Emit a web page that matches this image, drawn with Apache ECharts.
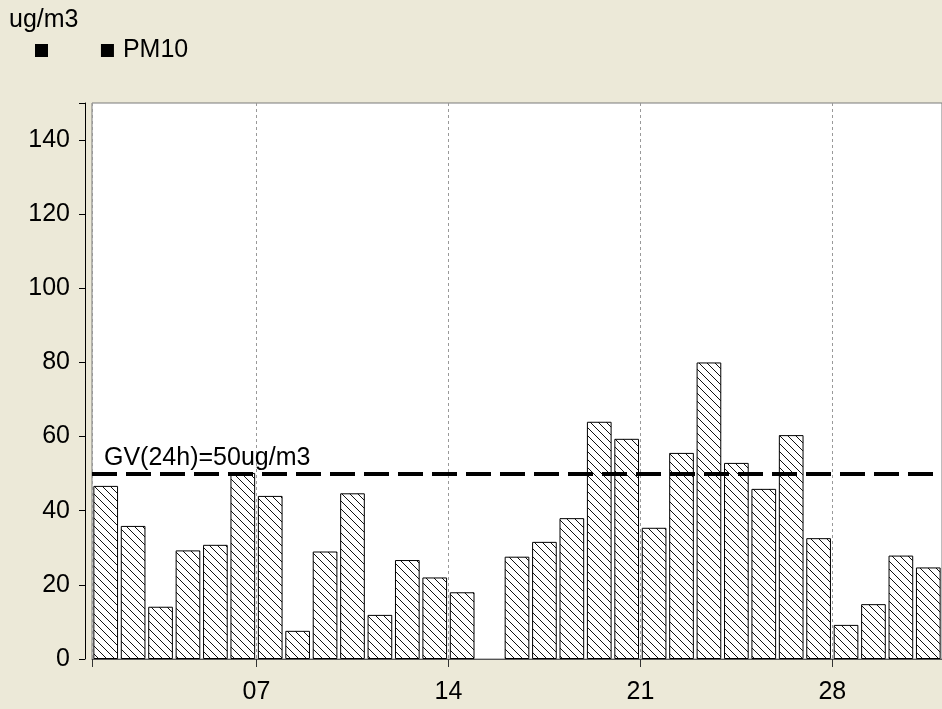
<!DOCTYPE html>
<html>
<head>
<meta charset="utf-8">
<script src="https://cdn.jsdelivr.net/npm/echarts@6/dist/echarts.min.js"></script>
<style>
  html, body { margin: 0; padding: 0; background: #ECE9D8; }
  #chart { width: 942px; height: 709px; }
</style>
</head>
<body>
<div id="chart"></div>
<script>
// ---- data ----
const days = [1,2,3,4,5,6,7,8,9,10,11,12,13,14,15,16,17,18,19,20,21,22,23,24,25,26,27,28,29,30,31];
const pm10 = [46.7,35.9,14.1,29.3,30.8,50.2,44.0,7.6,29.0,44.7,11.9,26.7,22.0,18.0,null,27.6,31.6,38.0,64.0,59.4,35.4,55.6,80.0,52.9,45.9,60.4,32.6,9.2,14.8,27.9,24.7];
const tickDays = [7,14,21,28];
const tickLabels = ['07','14','21','28'];
const yTicks = [0,20,40,60,80,100,120,140];
const guideValue = 50;
const guideLabel = 'GV(24h)=50ug/m3';
const unitLabel = 'ug/m3';
const seriesName = 'PM10';

// hatch pattern
const pat = document.createElement('canvas');
pat.width = 8; pat.height = 8;
const pc = pat.getContext('2d');
pc.fillStyle = '#fff';
pc.fillRect(0, 0, 8, 8);
pc.strokeStyle = '#111';
pc.lineWidth = 1;
pc.beginPath();
pc.moveTo(0, 0); pc.lineTo(8, 8);
pc.moveTo(-1, 7); pc.lineTo(1, 9);
pc.moveTo(7, -1); pc.lineTo(9, 1);
pc.stroke();

const FONT = "'Liberation Sans', Arial, sans-serif";
const FS = 25;
const chart = echarts.init(document.getElementById('chart'), null, { renderer: 'canvas' });

const boundaries = tickDays.map(d => d - 0.5);
const labelMap = {};
boundaries.forEach((b, i) => { labelMap[b] = tickLabels[i]; });

chart.setOption({
  backgroundColor: '#ECE9D8',
  animation: false,
  textStyle: { fontFamily: FONT },
  title: {
    text: unitLabel,
    left: 4, top: 3,
    textStyle: { fontFamily: FONT, fontSize: FS, fontWeight: 'normal', color: '#000' }
  },
  legend: {
    left: 30, top: 33,
    icon: 'rect',
    itemWidth: 13, itemHeight: 13,
    itemGap: 37,
    textStyle: { fontFamily: FONT, fontSize: FS, color: '#000', padding: [0, 0, 0, 4] },
    data: [
      { name: ' ', itemStyle: { color: '#000', borderWidth: 0 } },
      { name: seriesName, itemStyle: { color: '#000', borderWidth: 0, decal: 'none' } }
    ]
  },
  grid: {
    left: 92, right: 0, top: 103, bottom: 50,
    show: true, backgroundColor: '#fff', borderColor: '#7a7a7a', borderWidth: 1
  },
  xAxis: {
    type: 'value',
    min: 0.5, max: 31.5,
    offset: 3,
    axisLine: { show: true, lineStyle: { color: '#555', width: 1 } },
    axisTick: { show: true, length: 8, lineStyle: { color: '#333' }, customValues: [0.5].concat(boundaries) },
    axisLabel: {
      customValues: boundaries,
      formatter: v => labelMap[v] !== undefined ? labelMap[v] : '',
      fontFamily: FONT, fontSize: FS, color: '#000', margin: 18
    },
    splitLine: { show: true, lineStyle: { color: '#999', type: [3, 3], width: 1 } }
  },
  yAxis: {
    type: 'value',
    min: 0, max: 150, interval: 20,
    offset: 7,
    axisLine: { show: true, lineStyle: { color: '#000', width: 1 } },
    axisTick: { show: true, length: 6, lineStyle: { color: '#000' } },
    axisLabel: {
      formatter: v => yTicks.indexOf(v) >= 0 ? String(v) : '',
      fontFamily: FONT, fontSize: FS, color: '#000', margin: 15
    },
    splitLine: { show: false }
  },
  series: [
    { name: ' ', type: 'line', data: [], itemStyle: { color: '#000' } },
    {
      name: seriesName,
      type: 'bar',
      barWidth: '90%',
      data: days.map((d, i) => [d, pm10[i]]),
      itemStyle: {
        color: { image: pat, repeat: 'repeat' },
        borderColor: '#000',
        borderWidth: 1
      },
      markLine: {
        silent: true,
        symbol: ['none', 'none'],
        lineStyle: { color: '#000', width: 4, type: [25, 9] },
        label: {
          show: true,
          position: 'insideStartTop',
          formatter: guideLabel,
          fontFamily: FONT, fontSize: FS, color: '#000',
          distance: [12, 3]
        },
        data: [{ yAxis: guideValue }]
      }
    }
  ]
});
</script>
</body>
</html>
